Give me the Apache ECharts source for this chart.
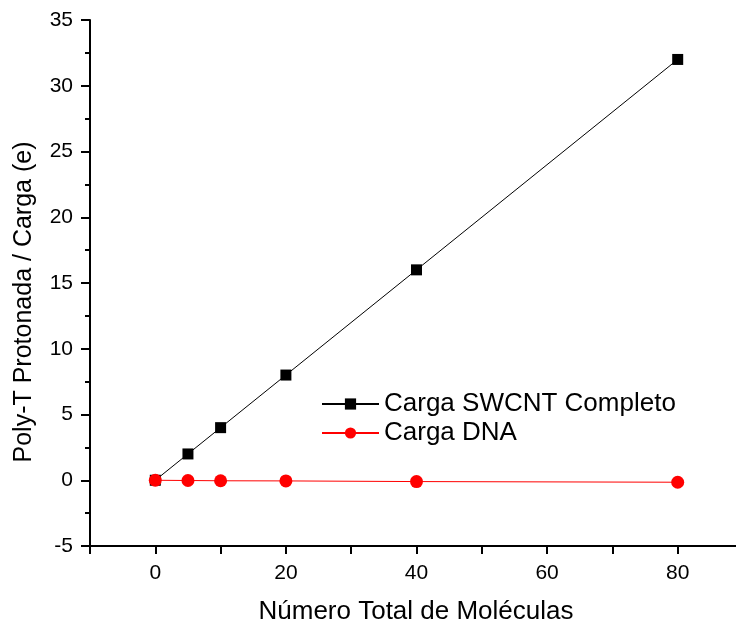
<!DOCTYPE html>
<html><head><meta charset="utf-8">
<script src="https://cdn.jsdelivr.net/npm/echarts@6/dist/echarts.min.js"></script>
<style>html,body{margin:0;padding:0;background:#fff}#c{width:736px;height:624px}</style>
</head><body><div id="c"></div>
<script>
const xValues = [0, 5, 10, 20, 40, 80];
const swcnt = [0, 2, 4, 8, 16, 32];
const dna = [0, -0.02, -0.04, -0.05, -0.1, -0.15];
const xTicks = [0, 20, 40, 60, 80];
const seriesNames = ['Carga SWCNT Completo', 'Carga DNA'];
const xTitle = 'Número Total de Moléculas';
const yTitle = 'Poly-T Protonada / Carga (e)';

const font = 'Arial, "Liberation Sans", sans-serif';
const chart = echarts.init(document.getElementById('c'));
chart.setOption({
  animation: false,
  backgroundColor: '#fff',
  textStyle: {fontFamily: font},
  grid: {left: 90, top: 20, bottom: 78, right: -7, outerBoundsMode: 'none', containLabel: false},
  legend: {
    left: 316, top: 386, orient: 'vertical', itemWidth: 57, itemHeight: 14, itemGap: 3,
    textStyle: {fontSize: 26, color: '#000', fontFamily: font, padding: [0, 0, 0, 0]},
    data: seriesNames
  },
  graphic: [
    {type: 'text', silent: true, x: 416, y: 612,
     style: {text: xTitle, font: '26px ' + font, fill: '#000', align: 'center', verticalAlign: 'middle'}},
    {type: 'text', silent: true, rotation: Math.PI / 2, x: 24, y: 302,
     style: {text: yTitle, font: '25px ' + font, fill: '#000', align: 'center', verticalAlign: 'middle'}}
  ],
  xAxis: {
    type: 'value', min: -10, max: 90, interval: 10,
    axisLine: {onZero: false, lineStyle: {color: '#000', width: 2}},
    axisTick: {show: true, inside: false, length: 8, lineStyle: {color: '#000', width: 2}},
    axisLabel: {fontSize: 21, color: '#000', margin: 17, fontFamily: font,
      formatter: v => xTicks.includes(v) ? String(v) : ''},
    splitLine: {show: false}
  },
  yAxis: {
    type: 'value', min: -5, max: 35, interval: 5,
    axisLine: {show: true, onZero: false, lineStyle: {color: '#000', width: 2}},
    axisTick: {show: true, length: 9, lineStyle: {color: '#000', width: 2}},
    minorTick: {show: true, splitNumber: 2, length: 5, lineStyle: {color: '#000', width: 2}},
    axisLabel: {fontSize: 21, color: '#000', margin: 17, fontFamily: font},
    splitLine: {show: false}
  },
  series: [
    {
      name: seriesNames[0], type: 'line', data: xValues.map((x, i) => [x, swcnt[i]]),
      symbol: 'rect', symbolSize: 11, z: 2,
      lineStyle: {color: '#000', width: 1}, itemStyle: {color: '#000'}
    },
    {
      name: seriesNames[1], type: 'line', data: xValues.map((x, i) => [x, dna[i]]),
      symbol: 'circle', symbolSize: 13, z: 3,
      lineStyle: {color: '#ff0000', width: 1}, itemStyle: {color: '#ff0000'}
    }
  ]
});
</script></body></html>
